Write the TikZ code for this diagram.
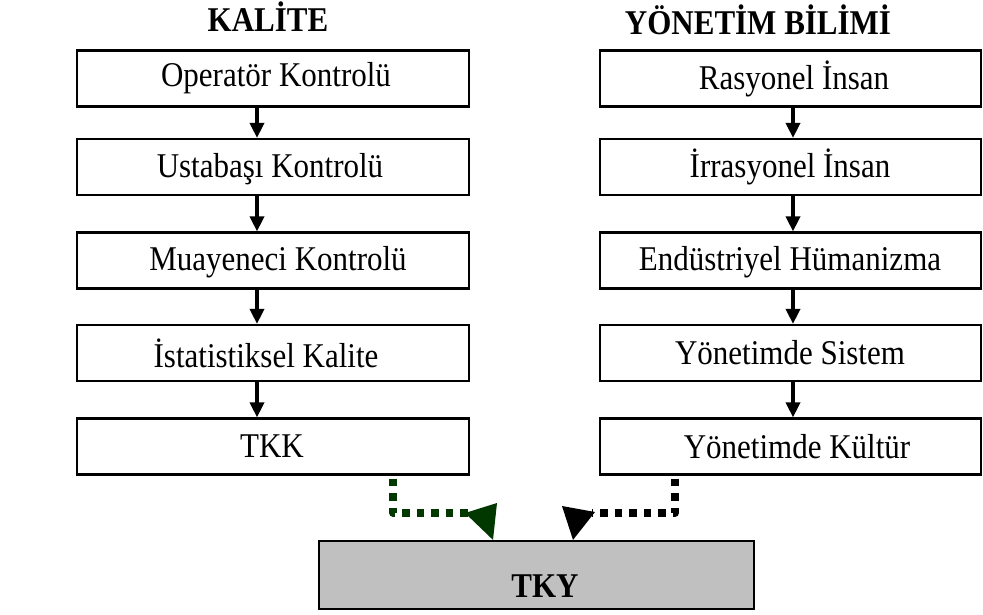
\documentclass[tikz,border=0pt]{standalone}
\usepackage{fontspec}
\setmainfont{Liberation Serif}
\usetikzlibrary{arrows.meta}
\definecolor{dkgreen}{RGB}{0,56,0}
\definecolor{tkygray}{RGB}{192,192,192}
\newcommand{\tallt}[1]{\scalebox{1}[1.12]{#1}}
\tikzset{
  stagebox/.style={draw, line width=2.2pt, minimum height=56pt, inner sep=0pt},
  leftbox/.style={stagebox, minimum width=392pt},
  rightbox/.style={stagebox, minimum width=381pt},
  lbl/.style={inner sep=0pt, font=\fontsize{31}{36}\selectfont},
  ttl/.style={inner sep=0pt, font=\fontsize{31}{36}\selectfont\bfseries},
  flow/.style={line width=3.5pt, -{Triangle[width=14pt,length=15pt]}},
  dotline/.style={line width=7.5pt, dash pattern=on 7.5pt off 7pt, line join=round},
}
\begin{document}
\begin{tikzpicture}[x=1pt,y=-1pt]
\useasboundingbox (0,0) rectangle (983,614);
% titles
\node[ttl] (t1) at (268,17) {\tallt{KALİTE}};
\node[ttl] (t2) at (758,20) {\tallt{YÖNETİM BİLİMİ}};
% left column boxes
\node[leftbox] (k1) at (273,78.5) {};
\node[leftbox] (k2) at (273,167) {};
\node[leftbox] (k3) at (273,260.5) {};
\node[leftbox] (k4) at (273,353) {};
\node[leftbox] (k5) at (273,446.5) {};
\node[lbl] (k1t) at (276,78.5) {\tallt{Operatör Kontrolü}};
\node[lbl] (k2t) at (270,169) {\tallt{Ustabaşı Kontrolü}};
\node[lbl] (k3t) at (278,262) {\tallt{Muayeneci Kontrolü}};
\node[lbl] (k4t) at (266,353) {\tallt{İstatistiksel Kalite}};
\node[lbl] (k5t) at (272,446.5) {\tallt{TKK}};
% right column boxes
\node[rightbox] (y1) at (790.5,78.5) {};
\node[rightbox] (y2) at (790.5,167) {};
\node[rightbox] (y3) at (790.5,260.5) {};
\node[rightbox] (y4) at (790.5,353) {};
\node[rightbox] (y5) at (790.5,446.5) {};
\node[lbl] (y1t) at (794,78.5) {\tallt{Rasyonel İnsan}};
\node[lbl] (y2t) at (790,167) {\tallt{İrrasyonel İnsan}};
\node[lbl] (y3t) at (790,262) {\tallt{Endüstriyel Hümanizma}};
\node[lbl] (y4t) at (790,353) {\tallt{Yönetimde Sistem}};
\node[lbl] (y5t) at (797,446.5) {\tallt{Yönetimde Kültür}};
% TKY
\node[draw, line width=2.2pt, fill=tkygray, minimum width=435pt, minimum height=68pt, inner sep=0pt] (tky) at (536.5,575) {};
\node[ttl] (tkyt) at (545,586) {\tallt{TKY}};
% vertical arrows
\coordinate (lx) at (257,0);
\coordinate (rx) at (793,0);
\foreach \a/\b in {k1/k2,k2/k3,k3/k4,k4/k5}{
  \draw[flow] (\a.south -| lx) -- (\b.north -| lx);
}
\foreach \a/\b in {y1/y2,y2/y3,y3/y4,y4/y5}{
  \draw[flow] (\a.south -| rx) -- (\b.north -| rx);
}
% dotted connectors
\coordinate (gx) at (393,0);
\coordinate (gbend) at (393,513);
\coordinate (gend) at (470,513);
\coordinate (gh1) at (465,513);
\coordinate (gh2) at (497,503);
\coordinate (gtip) at (493,0);
\draw[dotline, dkgreen] ([yshift=-3pt]k5.south -| gx) -- (gbend) -- (gend);
\fill[dkgreen] (gh1) -- (gh2) -- (tky.north -| gtip) -- cycle;

\coordinate (bx) at (675,0);
\coordinate (bbend) at (675,513);
\coordinate (bend) at (592,513);
\coordinate (bh1) at (562,506);
\coordinate (bh2) at (595,512);
\coordinate (btip) at (573,0);
\draw[dotline, black] ([yshift=-3pt]y5.south -| bx) -- (bbend) -- (bend);
\fill[black] (bh1) -- (bh2) -- (tky.north -| btip) -- cycle;
\end{tikzpicture}
\end{document}
